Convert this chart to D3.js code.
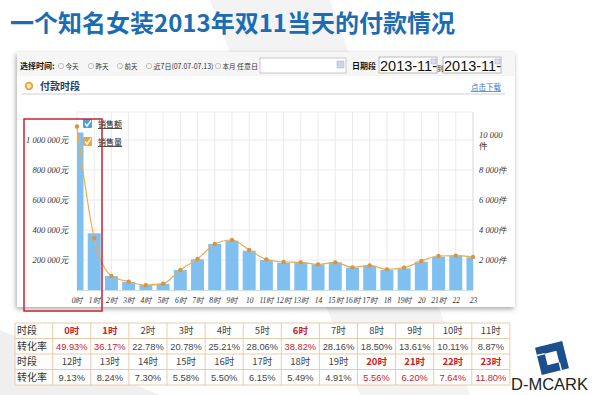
<!DOCTYPE html>
<html><head><meta charset="utf-8">
<script src="https://cdn.jsdelivr.net/npm/d3@7"></script>
<style>
html,body{margin:0;padding:0;background:#fff;}
svg{display:block;}
</style></head>
<body>
<svg id="c" width="600" height="395"></svg>
<script>
// ---------- data ----------
const title = "一个知名女装2013年双11当天的付款情况";
const xLabels = ["0时","1时","2时","3时","4时","5时","6时","7时","8时","9时","10","11时","12时","13时","14","15时","16时","17时","18","19时","20","21时","22","23"];
const salesAmount = [1050000, 378000, 93000, 53000, 33000, 42000, 133000, 205000, 307000, 329000, 262000, 200000, 182000, 185000, 171000, 185000, 149000, 162000, 133000, 144000, 189000, 222000, 227000, 218000];
const salesVolume = [10900, 3450, 940, 555, 320, 420, 1340, 2067, 3067, 3333, 2667, 2044, 1867, 1844, 1711, 1844, 1511, 1644, 1378, 1489, 1933, 2267, 2289, 2200];
const leftTicks = [200000, 400000, 600000, 800000, 1000000];
const rightTicks = [2000, 4000, 6000, 8000, 10000];
const legendLabels = ["销售额", "销售量"];
const toolbarItems = ["今天", "昨天", "前天", "近7日(07.07-07.13)", "本月"];
const tableHours1 = ["0时","1时","2时","3时","4时","5时","6时","7时","8时","9时","10时","11时"];
const tableRates1 = ["49.93%","36.17%","22.78%","20.78%","25.21%","28.06%","38.82%","28.16%","18.50%","13.61%","10.11%","8.87%"];
const tableHours2 = ["12时","13时","14时","15时","16时","17时","18时","19时","20时","21时","22时","23时"];
const tableRates2 = ["9.13%","8.24%","7.30%","5.58%","5.50%","6.15%","5.49%","4.91%","5.56%","6.20%","7.64%","11.80%"];
const highlight1 = [0, 1, 6];
const highlight2 = [8, 9, 10, 11];

// ---------- drawing ----------
const svg = d3.select("#c");
const CJK = "'Noto Sans CJK SC', 'Noto Sans', sans-serif";
const SERIF = "'Liberation Serif', 'DejaVu Serif', serif";
const defs = svg.append("defs");
const f = defs.append("filter").attr("id","sh").attr("x","-5%").attr("y","-5%").attr("width","110%").attr("height","115%");
f.append("feDropShadow").attr("dx",-1).attr("dy",2).attr("stdDeviation",2.5).attr("flood-color","#000").attr("flood-opacity",0.35);
defs.append("clipPath").attr("id","plotclip").append("rect").attr("x",77).attr("y",100).attr("width",396).attr("height",190);

// faint background shapes
svg.append("polygon").attr("points","210,0 330,0 470,395 360,395").attr("fill","#f3f3f3");
svg.append("polygon").attr("points","0,330 160,395 0,395").attr("fill","#efefef");

// title
svg.append("text").attr("x",10).attr("y",32).attr("font-family",CJK).attr("font-weight","bold")
  .attr("font-size",24).attr("fill","#1b6cb2").text(title);

// panel
svg.append("rect").attr("x",17).attr("y",52).attr("width",498).attr("height",255).attr("fill","#fff").attr("filter","url(#sh)");
svg.append("rect").attr("x",17).attr("y",52).attr("width",498).attr("height",24).attr("fill","#f6f6f6");

// toolbar
const tb = svg.append("g").attr("font-family",CJK).attr("font-size",7).attr("fill","#333");
tb.append("text").attr("x",20).attr("y",69).attr("font-weight","bold").attr("font-size",8).attr("fill","#111").text("选择时间:");
const itemX = [61, 91, 120, 149, 218];
const itemW = [13, 13, 13, 60, 13];
toolbarItems.forEach((t,i)=>{
  tb.append("circle").attr("cx",itemX[i]).attr("cy",66).attr("r",2.7).attr("fill","#f4f4f4").attr("stroke","#b8b8b8").attr("stroke-width",0.8);
  tb.append("text").attr("x",itemX[i]+4.5).attr("y",68.5).attr("textLength",itemW[i]).attr("lengthAdjust","spacingAndGlyphs").text(t);
});
tb.append("text").attr("x",237).attr("y",68.5).text("任意日");
tb.append("rect").attr("x",260).attr("y",58).attr("width",86).attr("height",15).attr("fill","#fff").attr("stroke","#bbb").attr("stroke-width",0.8);
tb.append("rect").attr("x",337).attr("y",61).attr("width",7).attr("height",7).attr("fill","#cfd6e4").attr("stroke","#a9b3c6").attr("stroke-width",0.5);
tb.append("text").attr("x",352).attr("y",68.5).attr("font-weight","bold").attr("font-size",8).attr("fill","#111").text("日期段");
[[379,437],[443,501]].forEach(([a,b])=>{
  tb.append("rect").attr("x",a).attr("y",57).attr("width",b-a).attr("height",16).attr("fill","#fff").attr("stroke","#aaa").attr("stroke-width",0.8);
  tb.append("text").attr("x",a+1).attr("y",71).attr("font-family","'Liberation Sans', Arial, sans-serif").attr("font-size",14.5).attr("fill","#111").text("2013-11-");
  tb.append("rect").attr("x",b-6).attr("y",59).attr("width",5).attr("height",5).attr("fill","#dde").attr("stroke","#999").attr("stroke-width",0.4);
});
tb.append("text").attr("x",437).attr("y",71).attr("font-size",6.5).text("到");

// header
svg.append("circle").attr("cx",29).attr("cy",86).attr("r",3.3).attr("fill","#fde6b8").attr("stroke","#e9a43e").attr("stroke-width",1.8);
svg.append("text").attr("x",40).attr("y",90).attr("font-family",CJK).attr("font-weight","bold").attr("font-size",10).attr("fill","#253c68").text("付款时段");
svg.append("line").attr("x1",22).attr("x2",505).attr("y1",94).attr("y2",94).attr("stroke","#cfcfcf").attr("stroke-width",1);
svg.append("text").attr("x",471).attr("y",90).attr("font-family",CJK).attr("font-size",7.5).attr("fill","#3b74bb").attr("text-decoration","underline").text("点击下载");

// scales
const x = d3.scalePoint().domain(d3.range(xLabels.length)).range([77, 473]);
const yL = d3.scaleLinear().domain([0, 1000000]).range([290, 140]);
const yR = d3.scaleLinear().domain([0, 10000]).range([290, 140]);
const plotTop = 112;

// grid
const grid = svg.append("g").attr("stroke","#ebebeb").attr("stroke-width",1);
x.domain().forEach(i=>{
  grid.append("line").attr("x1",x(i)).attr("x2",x(i)).attr("y1",plotTop).attr("y2",290);
});
leftTicks.forEach(t=>{
  grid.append("line").attr("x1",77).attr("x2",473).attr("y1",yL(t)).attr("y2",yL(t));
});
grid.append("line").attr("x1",77).attr("x2",473).attr("y1",plotTop).attr("y2",plotTop);
svg.append("line").attr("x1",473).attr("x2",473).attr("y1",plotTop).attr("y2",290).attr("stroke","#e0e0e0");

// bars
const bw = 13;
svg.append("g").attr("clip-path","url(#plotclip)").selectAll("rect").data(salesAmount).join("rect")
  .attr("x",(d,i)=>x(i)-bw/2).attr("width",bw)
  .attr("y",d=>yL(d)).attr("height",d=>yL(0)-yL(d))
  .attr("fill","#80c0f0");
svg.append("line").attr("x1",77).attr("x2",473).attr("y1",290.5).attr("y2",290.5).attr("stroke","#c8dff0").attr("stroke-width",1);

// line
const line = d3.line().x((d,i)=>x(i)).y(d=>yR(d)).curve(d3.curveMonotoneX);
svg.append("path").datum(salesVolume).attr("d",line).attr("fill","none").attr("stroke","#f2ab4a").attr("stroke-width",1.2);
svg.append("g").selectAll("circle").data(salesVolume).join("circle")
  .attr("cx",(d,i)=>x(i)).attr("cy",d=>yR(d)).attr("r",2.2).attr("fill","#d39548");

// axes labels
const fmt = v => d3.format(",")(v).replace(/,/g," ");
const axL = d3.axisLeft(yL).tickValues(leftTicks).tickSize(0).tickPadding(0).tickFormat(d=>fmt(d)+"元");
const gL = svg.append("g").attr("transform","translate(69,0)").call(axL);
gL.select(".domain").remove();
gL.selectAll("text").attr("font-family",SERIF).attr("font-style","italic").attr("font-size",8.5).attr("fill","#333");

const axR = d3.axisRight(yR).tickValues(rightTicks).tickSize(0).tickPadding(0).tickFormat(d=> d===10000 ? fmt(d) : fmt(d)+"件");
const gR = svg.append("g").attr("transform","translate(479,0)").call(axR);
gR.select(".domain").remove();
gR.selectAll("text").attr("font-family",SERIF).attr("font-style","italic").attr("font-size",8.5).attr("fill","#333");
gR.selectAll(".tick").filter(d=>d===10000).select("text").attr("dy","-0.25em");
gR.selectAll(".tick").filter(d=>d===10000).append("text").attr("x",0).attr("dy","1.0em")
  .attr("font-family",CJK).attr("font-size",8.5).attr("fill","#333").attr("text-anchor","start").text("件");

const axB = d3.axisBottom(x).tickSize(0).tickPadding(0).tickFormat(i=>xLabels[i]);
const gB = svg.append("g").attr("transform","translate(0,298)").call(axB);
gB.select(".domain").remove();
gB.selectAll("text").attr("font-family",SERIF).attr("font-style","italic").attr("font-size",7.5).attr("fill","#333");

// legend
const legColors = ["#4aa0e2", "#f0a435"];
legendLabels.forEach((t,i)=>{
  const y0 = 119 + i*18;
  svg.append("rect").attr("x",83).attr("y",y0).attr("width",9).attr("height",9).attr("fill",legColors[i]).attr("rx",1);
  svg.append("path").attr("d",`M${85},${y0+4.5} L${87},${y0+7} L${91},${y0+1.5}`).attr("fill","none").attr("stroke","#fff").attr("stroke-width",1.4);
  svg.append("text").attr("x",98).attr("y",y0+8).attr("font-family",CJK).attr("font-size",8).attr("fill","#222")
    .attr("text-decoration","underline").text(t);
});

// red highlight rect
svg.append("rect").attr("x",24).attr("y",119).attr("width",78).attr("height",192).attr("fill","none").attr("stroke","#c3242c").attr("stroke-width",1.5);

// table
const tx0 = 15, c0w = 37.7, cw = 38.1;
const rowY = [323, 338.5, 354, 369.5, 385];
const rows = [
  {label:"时段", vals:tableHours1, hl:highlight1, bold:true},
  {label:"转化率", vals:tableRates1, hl:highlight1, bold:false},
  {label:"时段", vals:tableHours2, hl:highlight2, bold:true},
  {label:"转化率", vals:tableRates2, hl:highlight2, bold:false}
];
const tg = svg.append("g");
tg.append("rect").attr("x",tx0).attr("y",rowY[0]).attr("width",c0w+12*cw).attr("height",rowY[4]-rowY[0]).attr("fill","#fff").attr("fill-opacity",0.85);
rows.forEach((r,ri)=>{
  const cy = (rowY[ri]+rowY[ri+1])/2;
  tg.append("text").attr("x",tx0+2).attr("y",cy+3.5).attr("font-family",CJK).attr("font-size",10).attr("fill","#333").text(r.label);
  r.vals.forEach((v,ci)=>{
    const hl = r.hl.includes(ci);
    tg.append("text").attr("x",tx0+c0w+cw*ci+cw/2).attr("y",cy+3.3).attr("text-anchor","middle")
      .attr("font-family", r.bold ? CJK : "'Liberation Sans', Arial, sans-serif")
      .attr("font-size", r.bold ? 9.5 : 9.3)
      .attr("font-weight", hl && r.bold ? "bold" : "normal")
      .attr("fill", hl ? "#c8232b" : "#444").text(v);
  });
});
const bc = "#e6c6a2";
rowY.forEach(y=>tg.append("line").attr("x1",tx0).attr("x2",tx0+c0w+12*cw).attr("y1",y).attr("y2",y).attr("stroke",bc).attr("stroke-width",0.9));
d3.range(14).forEach(k=>{
  const xx = k===0 ? tx0 : tx0+c0w+cw*(k-1);
  tg.append("line").attr("x1",xx).attr("x2",xx).attr("y1",rowY[0]).attr("y2",rowY[4]).attr("stroke",bc).attr("stroke-width",0.9);
});

// logo
const lg = svg.append("g").attr("transform","translate(552,358) rotate(-14)");
lg.append("path").attr("fill-rule","evenodd").attr("fill","#1c4f8c")
  .attr("d","M-14,-14 L14,-14 L14,14 L-14,14 Z M-6,-6 L6,-6 L6,6 L-6,6 Z");
lg.append("line").attr("x1",-14).attr("y1",-6).attr("x2",-6).attr("y2",-6).attr("stroke","#fff").attr("stroke-width",1.5);
lg.append("line").attr("x1",6).attr("y1",14).attr("x2",6).attr("y2",6).attr("stroke","#fff").attr("stroke-width",1.5);
svg.append("text").attr("x",511).attr("y",390).attr("font-family","'Liberation Sans', Arial, sans-serif")
  .attr("font-size",16.5).attr("fill","#222").text("D-MCARK");
</script>
</body></html>
